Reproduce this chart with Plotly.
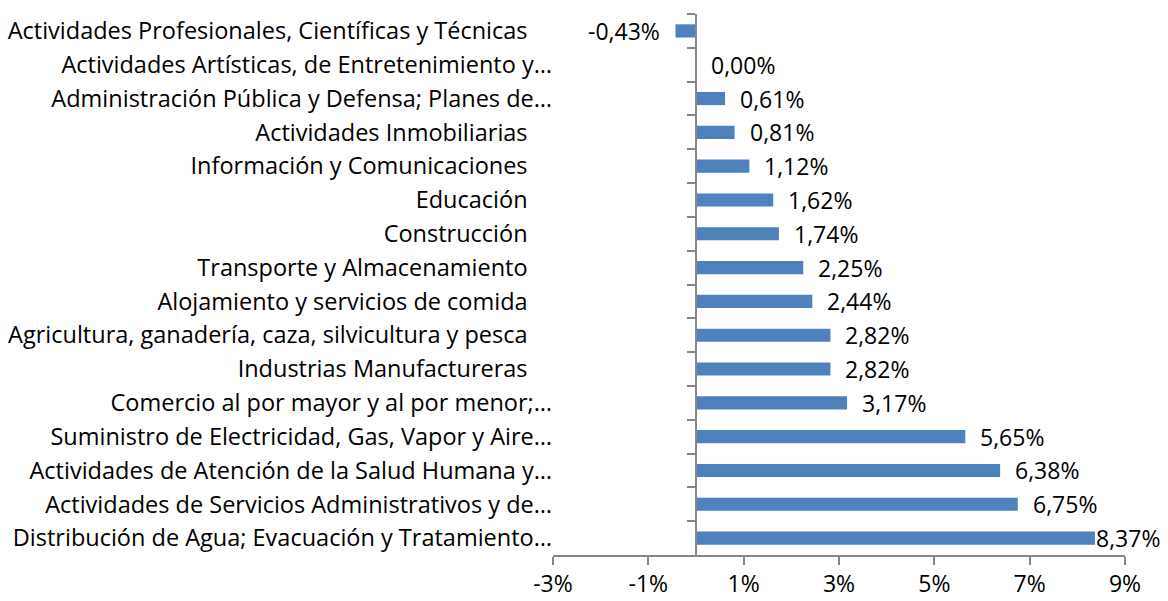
import plotly.graph_objects as go

NB = "\u00a0"
categories = [
    "Actividades Profesionales, Científicas y Técnicas",
    "Actividades Artísticas, de Entretenimiento y…",
    "Administración Pública y Defensa; Planes de…",
    "Actividades Inmobiliarias",
    "Información y Comunicaciones",
    "Educación",
    "Construcción",
    "Transporte y Almacenamiento",
    "Alojamiento y servicios de comida",
    "Agricultura, ganadería, caza, silvicultura y pesca",
    "Industrias Manufactureras",
    "Comercio al por mayor y al por menor;…",
    "Suministro de Electricidad, Gas, Vapor y Aire…",
    "Actividades de Atención de la Salud Humana y…",
    "Actividades de Servicios Administrativos y de…",
    "Distribución de Agua; Evacuación y Tratamiento…",
]
values = [-0.43, 0.00, 0.61, 0.81, 1.12, 1.62, 1.74, 2.25, 2.44, 2.82, 2.82, 3.17, 5.65, 6.38, 6.75, 8.37]
x_ticks = [-3, -1, 1, 3, 5, 7, 9]
x_tick_labels = ["-3%", "-1%", "1%", "3%", "5%", "7%", "9%"]

# displayed tick labels: full names carry trailing space, truncated ones don't
tick_text = [c if c.endswith("…") else c + NB * 4 for c in categories]

FONT = "Open Sans"
FS_CAT = 23.5
FS = 23
AXIS_COLOR = "#868686"
BAR_COLOR = "#4F81BD"

fig = go.Figure()
fig.add_trace(go.Bar(
    x=values, y=categories, orientation="h",
    marker=dict(color=BAR_COLOR, line=dict(width=0)),
    hoverinfo="skip",
))
# invisible helper trace so the category axis at x=0 has data
fig.add_trace(go.Scatter(
    x=values, y=categories, yaxis="y2", mode="markers",
    marker=dict(size=1, opacity=0), hoverinfo="skip", showlegend=False,
))

annotations = []
for i, (c, v) in enumerate(zip(categories, values)):
    txt = f"{v:.2f}".replace(".", ",") + "%"
    if v < 0:
        annotations.append(dict(x=v, y=c, text=txt, xanchor="right", xshift=-14,
                                showarrow=False, font=dict(family=FONT, size=FS, color="black")))
    else:
        shift = -1 if v > 8 else 13
        annotations.append(dict(x=v, y=c, text=txt, xanchor="left", xshift=shift,
                                showarrow=False, font=dict(family=FONT, size=FS, color="black")))

xmin, xmax = -3, 9
n = len(categories)
fig.update_layout(
    width=1168, height=601,
    paper_bgcolor="white", plot_bgcolor="white",
    margin=dict(l=553, r=43, t=14, b=46),
    showlegend=False,
    bargap=0.61,
    font=dict(family=FONT, size=FS, color="black"),
    annotations=annotations,
    xaxis=dict(
        range=[xmin, xmax], tickvals=x_ticks, ticktext=x_tick_labels,
        showgrid=False, zeroline=False, automargin=False,
        showline=True, linecolor=AXIS_COLOR, linewidth=1.5,
        ticks="outside", ticklen=8, tickcolor=AXIS_COLOR, tickwidth=1.5,
        tickfont=dict(family=FONT, size=FS, color="black"),
    ),
    yaxis=dict(
        type="category", categoryarray=categories, range=[n - 0.5, -0.5],
        tickmode="array", tickvals=categories, ticktext=tick_text,
        showgrid=False, zeroline=False, showline=False, ticks="", automargin=False,
        tickfont=dict(family=FONT, size=FS_CAT, color="black"),
    ),
    yaxis2=dict(
        type="category", matches="y", overlaying="y", anchor="free",
        position=(0 - xmin) / (xmax - xmin), automargin=False,
        showgrid=False, zeroline=False, showticklabels=False,
        showline=True, linecolor=AXIS_COLOR, linewidth=1.5,
        ticks="outside", ticklen=8, tickcolor=AXIS_COLOR, tickwidth=1.5,
        tickson="boundaries",
    ),
)
fig.write_html("out.html", config={"displayModeBar": False},
               post_script="document.body.style.margin='0px';")
